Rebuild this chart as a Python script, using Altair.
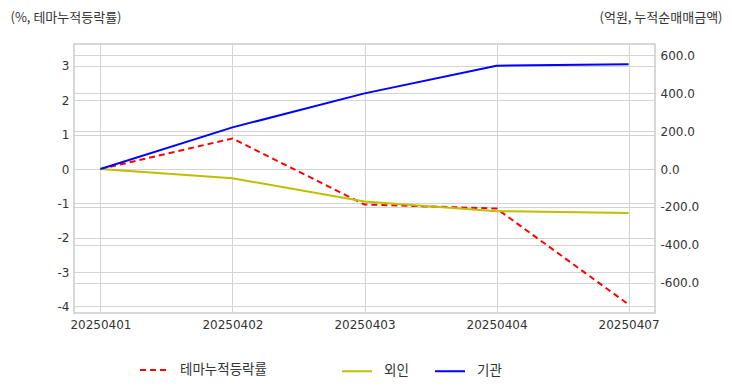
import altair as alt
import pandas as pd

dates = ["20250401", "20250402", "20250403", "20250404", "20250407"]
theme = [0.0, 0.89, -1.03, -1.15, -3.94]
foreign = [0.0, -49, -171, -222, -231]
inst = [0.0, 219, 398, 544, 551]

left_names = ["테마누적등락률"]
left_colors = ["#ff0000"]
left_dash = [[6, 4]]
right_names = ["외인", "기관"]
right_colors = ["#bfbf00", "#0000ff"]

KFONT = "Noto Sans CJK KR"
NFONT = "DejaVu Sans"

df_left = pd.DataFrame({"date": dates, "value": theme, "series": left_names[0]})
df_right = pd.concat([
    pd.DataFrame({"date": dates, "value": foreign, "series": right_names[0]}),
    pd.DataFrame({"date": dates, "value": inst, "series": right_names[1]}),
])

x_enc = alt.X("date:O", scale=alt.Scale(type="point", padding=0.2),
              axis=alt.Axis(title=None, labelAngle=0, ticks=False, labelPadding=6,
                            grid=True, gridColor="#d3d3d3", domain=False,
                            labelFontSize=12, labelColor="#333", labelFont=NFONT))


def legend(x, pad, size):
    return alt.Legend(title=None, orient="none", direction="horizontal",
                      legendX=x, legendY=311, symbolType="stroke",
                      symbolSize=size, symbolStrokeWidth=2,
                      labelFontSize=13.5, labelColor="#333", labelFont=KFONT,
                      columnPadding=pad, labelOffset=11)


left = alt.Chart(df_left).mark_line(strokeWidth=2).encode(
    x=x_enc,
    y=alt.Y("value:Q", scale=alt.Scale(domain=[-4.19, 3.64], nice=False, zero=False),
            axis=alt.Axis(title="(%, 테마누적등락률)", titleAngle=0, titleX=-64, titleY=-27,
                          titleAlign="left", titleBaseline="middle", titleFontWeight="normal",
                          titleFontSize=13, titleColor="#333", titleFont=KFONT, titleLimit=300,
                          values=[-4, -3, -2, -1, 0, 1, 2, 3], ticks=False, labelPadding=5,
                          labelExpr="replace(format(datum.value, 'd'), '\u2212', '-')",
                          domain=False, grid=True, gridColor="#d3d3d3",
                          labelFontSize=12, labelColor="#333", labelFont=NFONT)),
    color=alt.Color("series:N", scale=alt.Scale(domain=left_names, range=left_colors),
                    legend=legend(65, 30, 780)),
    strokeDash=alt.StrokeDash("series:N", scale=alt.Scale(domain=left_names, range=left_dash),
                              legend=legend(65, 30, 780)),
)

right = alt.Chart(df_right).mark_line(strokeWidth=2).encode(
    x=x_enc,
    y=alt.Y("value:Q", scale=alt.Scale(domain=[-758, 658], nice=False, zero=False),
            axis=alt.Axis(orient="right", title="(억원, 누적순매매금액)", titleAngle=0,
                          titleX=67, titleY=-27, titleAlign="right", titleBaseline="middle",
                          titleFontWeight="normal", titleFontSize=13, titleColor="#333",
                          titleFont=KFONT, titleLimit=300,
                          values=[-600, -400, -200, 0, 200, 400, 600],
                          labelExpr="replace(format(datum.value, '.1f'), '\u2212', '-')",
                          ticks=False, labelPadding=5, domain=False, grid=True,
                          gridColor="#d3d3d3", labelFontSize=12, labelColor="#333",
                          labelFont=NFONT)),
    color=alt.Color("series2:N", scale=alt.Scale(domain=right_names, range=right_colors),
                    legend=legend(267, 22, 900)),
).transform_calculate(series2="datum.series")

chart = alt.layer(left, right).resolve_scale(
    y="independent", color="independent", strokeDash="independent"
).properties(
    width=581, height=269,
    autosize=alt.AutoSizeParams(type="none"),
    padding={"left": 66, "top": 36, "right": 68, "bottom": 70},
).configure_view(stroke="#cccccc", strokeWidth=1.5)

chart.save("out.html", embed_options={"renderer": "svg", "actions": False})
